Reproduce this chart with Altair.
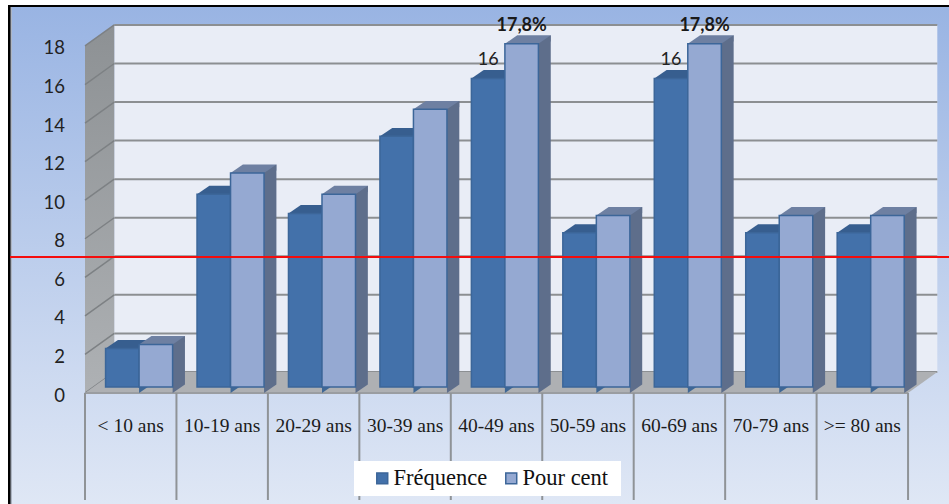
import altair as alt
import pandas as pd

# Age groups and the two series
categories = ["< 10 ans", "10-19 ans", "20-29 ans", "30-39 ans", "40-49 ans",
              "50-59 ans", "60-69 ans", "70-79 ans", ">= 80 ans"]
frequence = [2, 10, 9, 13, 16, 8, 16, 8, 8]
pour_cent = [2.2, 11.1, 10, 14.4, 17.8, 8.9, 17.8, 8.9, 8.9]
freq_labels = ["", "", "", "", "16", "", "16", "", ""]
pct_labels = ["", "", "", "", "17,8%", "", "17,8%", "", ""]
y_ticks = [0, 2, 4, 6, 8, 10, 12, 14, 16, 18]
reference_level = 7.05

W, H = 949, 504
UNIT_X, UNIT_Y = 91.45, 19.28          # pixels per category / per value
X0, Y0 = 85, 393                       # where category 0 and value 0 sit
WALL_DX, WALL_DY = 0.32, 1.09          # depth of the box
BAR_DX, BAR_DY = 0.135, 0.44           # depth of one bar
BAR_LEFT, BAR_W = 0.225, 0.3665
BAR_LIFT = -6                          # bars stand a little behind the floor edge

x_scale = alt.Scale(domain=[-X0 / UNIT_X, (W - X0) / UNIT_X], nice=False, zero=False)
y_scale = alt.Scale(domain=[(Y0 - H) / UNIT_Y, Y0 / UNIT_Y], nice=False, zero=False)
X = lambda f="x": alt.X(f"{f}:Q", scale=x_scale, axis=None)
Y = lambda f="y": alt.Y(f"{f}:Q", scale=y_scale, axis=None)


def vgrad(a, b):
    return alt.Gradient(gradient="linear", x1=0, y1=0, x2=0, y2=1,
                        stops=[alt.GradientStop(color=a, offset=0),
                               alt.GradientStop(color=b, offset=1)])


def polygon(rows, **mark):
    """Parallelogram drawn as an area: rows are (key, x, upper, lower)."""
    df = pd.DataFrame(rows, columns=["key", "x", "y", "y2"])
    return alt.Chart(df).mark_area(orient="vertical", **mark).encode(
        x=X(), y=alt.Y("y:Q", scale=y_scale, axis=None, stack=None),
        y2="y2:Q", detail="key:N")


def chrome_rect(left, top, right_edge, bottom, fill):
    return alt.Chart(pd.DataFrame({"a": [0]})).mark_rect(color=fill).encode(
        x=alt.value(left), x2=alt.value(right_edge), y=alt.value(top), y2=alt.value(bottom))


# Page chrome: frame line and blue gradient panel
frame = chrome_rect(8, 5, W, H, "#000000")
edge = chrome_rect(10.5, 7, W, H, "#aeb6c4")
panel = chrome_rect(12, 7, W, H, vgrad("#99b4e3", "#dfe7f5"))
legend_box = chrome_rect(354, 461, 621, 496, "#ffffff")

# Box: back wall, left wall, floor
right = 9.0
back_wall = alt.Chart(pd.DataFrame({"x": [WALL_DX], "x2": [right + WALL_DX],
                                    "y": [18 + WALL_DY], "y2": [WALL_DY]})
                      ).mark_rect(color="#e9edf6").encode(x=X(), x2="x2:Q", y=Y(), y2="y2:Q")
left_wall = polygon([("w", 0, 18, 0), ("w", WALL_DX, 18 + WALL_DY, WALL_DY)],
                    color=vgrad("#8d9194", "#aeb1b4"))
floor = polygon([("f", 0, 0, 0), ("f", WALL_DX, WALL_DY, 0),
                 ("f", right, WALL_DY, 0), ("f", right + WALL_DX, WALL_DY, WALL_DY)],
                color="#aeb0b3")

grid_df = pd.DataFrame({"y": [v + WALL_DY for v in y_ticks], "x": WALL_DX, "x2": right + WALL_DX})
grid = alt.Chart(grid_df).mark_rule(color="#8c8f92", strokeWidth=2).encode(
    x=X(), x2="x2:Q", y=Y())
wall_df = pd.DataFrame(
    [(v, 0, v) for v in y_ticks] + [(v, WALL_DX, v + WALL_DY) for v in y_ticks],
    columns=["key", "x", "y"])
wall_grid = alt.Chart(wall_df).mark_line(color="#7d8184", strokeWidth=1.5).encode(
    x=X(), y=Y(), detail="key:N")
front_edge = alt.Chart(pd.DataFrame({"y": [0], "x": [0], "x2": [right]})).mark_rule(
    color="#9a9da1", strokeWidth=2).encode(x=X(), x2="x2:Q", y=Y())

# Category separators hanging below the floor
tick_df = pd.DataFrame({"x": list(range(len(categories) + 1)), "y": 0, "y2": -5.55})
cat_ticks = alt.Chart(tick_df).mark_rule(color="#8f9397", strokeWidth=2).encode(
    x=X(), y=Y(), y2="y2:Q")

# Value labels beside the left wall
y_labels = alt.Chart(pd.DataFrame({"y": y_ticks, "x": -20 / UNIT_X})).mark_text(
    align="right", font="Lato", fontSize=18.5, color="#222222", dy=2.5).encode(
    x=X(), y=Y(), text="y:Q")

# Bars: depth faces first, then the front through a colour scale that feeds the legend
series = [("Fréquence", frequence, 0, "#375e8f", "#3f6795"),
          ("Pour cent", pour_cent, 1, "#6e80a2", "#5e6e8b")]
bar_layers = []
fronts = []
for name, values, slot, top_c, side_c in series:
    tops, sides = [], []
    for i, v in enumerate(values):
        x0 = i + BAR_LEFT + slot * BAR_W
        x1 = x0 + BAR_W
        tops += [(i, x0, v, v), (i, x0 + BAR_DX, v + BAR_DY, v),
                 (i, x1, v + BAR_DY, v), (i, x1 + BAR_DX, v + BAR_DY, v + BAR_DY)]
        sides += [(i, x1, v, 0), (i, x1 + BAR_DX, v + BAR_DY, BAR_DY)]
        fronts.append({"serie": name, "x": x0, "x2": x1, "y": v})
    bar_layers.append((name, polygon(tops, color=top_c, yOffset=BAR_LIFT),
                       polygon(sides, color=side_c, yOffset=BAR_LIFT)))

color = alt.Color("serie:N", scale=alt.Scale(domain=["Fréquence", "Pour cent"],
                                             range=["#4371aa", "#95a9d2"]),
                  legend=alt.Legend(
                      title=None, orient="none", legendX=354, legendY=461,
                      direction="horizontal", fillColor="#ffffff", padding=6,
                      symbolType="square", symbolSize=120, symbolStrokeColor="#3c6699",
                      symbolStrokeWidth=1.5, labelFont="Liberation Serif",
                      labelFontSize=22.5, labelColor="#111111", labelOffset=0,
                      symbolOffset=11, columnPadding=1, symbolOpacity=1, zindex=1))
front_df = pd.DataFrame(fronts)
front = alt.Chart(front_df).mark_rect(
    stroke="#3c6699", strokeWidth=1.5, yOffset=BAR_LIFT, y2Offset=BAR_LIFT).encode(
    x=X(), x2="x2:Q", y=Y(), y2=alt.datum(0), color=color)
front_f = front.transform_filter(alt.datum.serie == "Fréquence")
front_p = front.transform_filter(alt.datum.serie == "Pour cent")

# Category names and the value labels
cat_df = pd.DataFrame({"label": categories, "x": [i + 0.5 for i in range(len(categories))], "y": 0})
cat_text = alt.Chart(cat_df).mark_text(
    font="Liberation Serif", fontSize=19.5, color="#1c1c1c", dy=33).encode(
    x=X(), y=Y(), text="label:N")

lab_rows = []
for i in range(len(categories)):
    if freq_labels[i]:
        lab_rows.append({"x": i + BAR_LEFT + BAR_W / 2, "y": frequence[i], "t": freq_labels[i]})
lab_df = pd.DataFrame(lab_rows)
freq_text = alt.Chart(lab_df).mark_text(
    font="Lato", fontSize=18, color="#222222", dy=-25).encode(
    x=X(), y=Y(), text="t:N")
pct_df = pd.DataFrame([{"x": i + BAR_LEFT + 1.5 * BAR_W, "y": pour_cent[i], "t": pct_labels[i]}
                       for i in range(len(categories)) if pct_labels[i]])
pct_text = alt.Chart(pct_df).mark_text(
    font="Lato", fontSize=18, fontWeight="bold", color="#1a1a1a", dy=-23.5).encode(
    x=X(), y=Y(), text="t:N")

# Horizontal reference line across the whole panel
red = alt.Chart(pd.DataFrame({"y": [reference_level]})).mark_rule(
    color="#f40d0d", strokeWidth=2).encode(y=Y(), x=alt.value(10), x2=alt.value(W))

chart = alt.layer(
    frame, edge, panel, back_wall, grid, left_wall, wall_grid, floor, front_edge, cat_ticks,
    legend_box, y_labels,
    bar_layers[0][1], bar_layers[0][2], front_f,
    bar_layers[1][1], bar_layers[1][2], front_p,
    cat_text, freq_text, pct_text, red,
).properties(
    width=W, height=H, padding=0, background="#ffffff",
    autosize=alt.AutoSizeParams(type="none"),
).configure_view(stroke=None)

chart.save("out.html", embed_options={"renderer": "svg", "actions": False})
